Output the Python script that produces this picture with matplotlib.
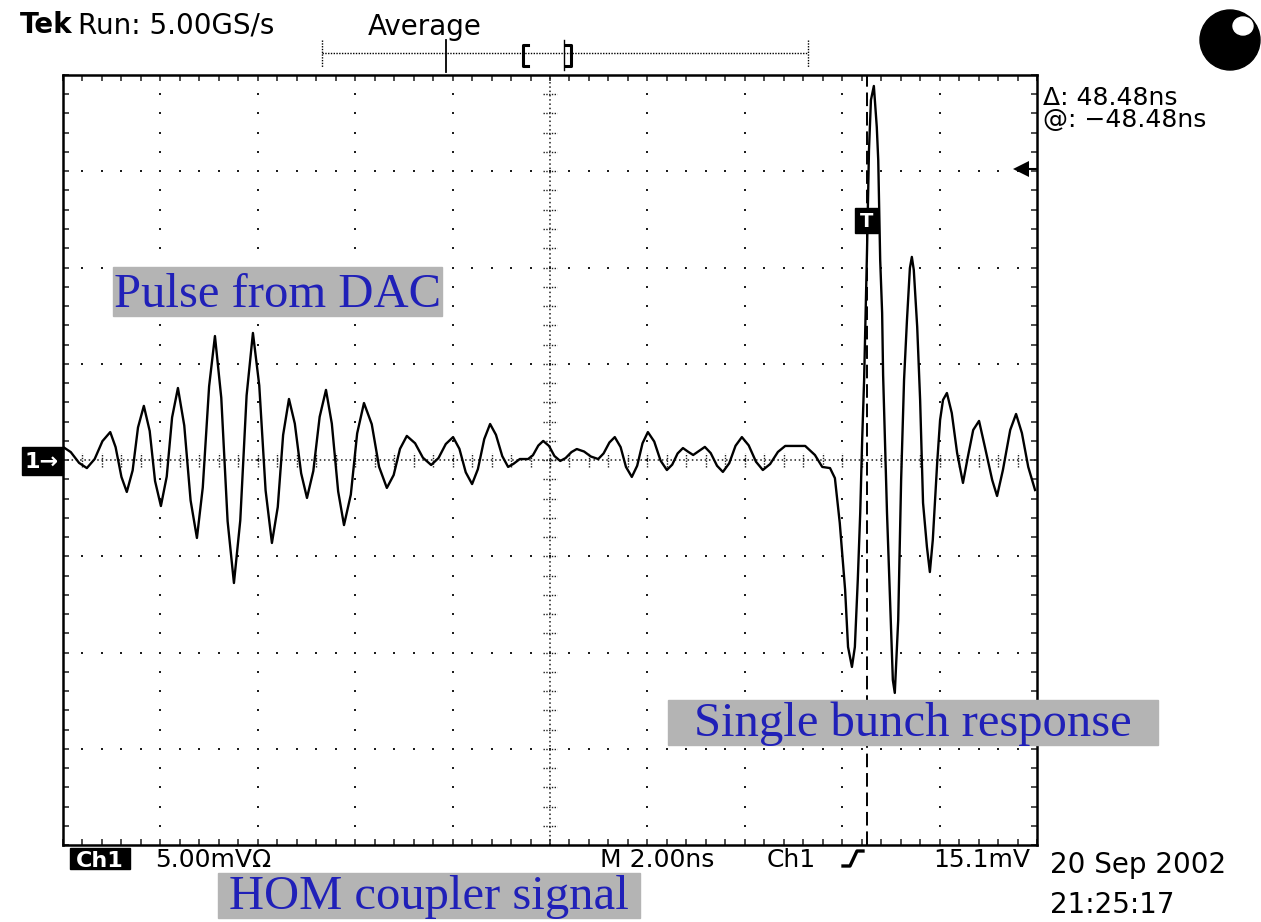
import numpy as np
import matplotlib.pyplot as plt
from matplotlib.patches import Rectangle, Circle, Ellipse

# Ch1 record (HOM coupler), 20 ns window
time_ns = [
    0.00, 0.16, 0.33, 0.49, 0.65, 0.81, 0.97, 1.08, 1.20, 1.31,
    1.43, 1.54, 1.66, 1.78, 1.89, 2.01, 2.13, 2.24, 2.36, 2.49,
    2.62, 2.75, 2.87, 3.00, 3.12, 3.25, 3.38, 3.51, 3.64, 3.77,
    3.90, 4.03, 4.16, 4.29, 4.41, 4.52, 4.64, 4.76, 4.89, 5.01,
    5.14, 5.27, 5.40, 5.52, 5.65, 5.77, 5.91, 6.04, 6.18, 6.34,
    6.49, 6.65, 6.79, 6.92, 7.06, 7.23, 7.39, 7.56, 7.71, 7.86,
    8.01, 8.14, 8.27, 8.40, 8.52, 8.65, 8.77, 8.89, 9.02, 9.14,
    9.25, 9.38, 9.55, 9.65, 9.76, 9.86, 9.98, 10.09, 10.21, 10.32,
    10.44, 10.55, 10.70, 10.84, 10.99, 11.10, 11.22, 11.33, 11.45, 11.56,
    11.68, 11.79, 11.90, 12.01, 12.14, 12.27, 12.40, 12.51, 12.62, 12.73,
    12.83, 12.94, 13.06, 13.18, 13.30, 13.43, 13.55, 13.68, 13.81, 13.94,
    14.08, 14.23, 14.37, 14.52, 14.68, 14.83, 15.24, 15.44, 15.59, 15.75,
    15.85, 15.95, 16.06, 16.12, 16.20, 16.26, 16.32, 16.37, 16.41, 16.45,
    16.51, 16.55, 16.59, 16.65, 16.71, 16.74, 16.78, 16.82, 16.84, 16.92,
    16.98, 17.04, 17.08, 17.15, 17.21, 17.27, 17.33, 17.39, 17.43, 17.47,
    17.54, 17.60, 17.66, 17.74, 17.80, 17.86, 17.95, 18.01, 18.07, 18.15,
    18.25, 18.36, 18.48, 18.58, 18.69, 18.81, 18.93, 19.08, 19.18, 19.30,
    19.45, 19.57, 19.69, 19.82, 19.96,
]
volt_mv = [
    0.68, 0.41, -0.15, -0.42, 0.05, 0.98, 1.45, 0.67, -0.88, -1.66,
    -0.54, 1.69, 2.81, 1.51, -1.09, -2.39, -0.86, 2.21, 3.74, 1.79,
    -2.10, -4.05, -1.43, 3.82, 6.44, 3.23, -3.18, -6.39, -3.14, 3.35,
    6.60, 3.87, -1.58, -4.31, -2.44, 1.30, 3.17, 1.89, -0.69, -1.97,
    -0.57, 2.24, 3.64, 1.89, -1.63, -3.38, -1.80, 1.38, 2.96, 1.86,
    -0.35, -1.45, -0.78, 0.58, 1.25, 0.87, 0.12, -0.26, 0.10, 0.83,
    1.19, 0.58, -0.64, -1.25, -0.47, 1.09, 1.87, 1.31, 0.20, -0.36,
    -0.20, 0.05, 0.05, 0.25, 0.75, 0.99, 0.73, 0.21, -0.05, 0.10,
    0.41, 0.57, 0.44, 0.18, 0.05, 0.34, 0.91, 1.19, 0.67, -0.36,
    -0.88, -0.30, 0.87, 1.45, 0.96, -0.03, -0.52, -0.24, 0.34, 0.62,
    0.44, 0.26, 0.47, 0.68, 0.36, -0.30, -0.62, -0.17, 0.74, 1.19,
    0.76, -0.09, -0.52, -0.21, 0.42, 0.73, 0.73, 0.26, -0.36, -0.42,
    -0.94, -3.27, -6.75, -9.71, -10.75, -9.71, -6.23, -2.75, 1.04, 4.16,
    10.91, 16.10, 18.70, 19.43, 17.30, 15.58, 10.39, 7.64, 4.42, -2.75,
    -7.12, -11.43, -12.10, -8.31, -1.04, 4.16, 7.27, 9.97, 10.55, 9.87,
    6.91, 3.12, -2.23, -4.52, -5.82, -4.16, -0.16, 2.08, 3.12, 3.48,
    2.44, 0.36, -1.19, 0.16, 1.56, 2.03, 0.68, -1.04, -1.87, -0.52,
    1.56, 2.39, 1.40, -0.36, -1.56,
]

ns_per_div = 2.0
mv_per_div = 5.0
trig_level_mv = 15.1
cursor_ns = 16.5

W, H = 1261, 922
fig = plt.figure(figsize=(W / 100, H / 100), dpi=100)
fig.patch.set_facecolor("white")


def px_rect(x0, y0, x1, y1):
    # pixel box (from top-left) -> figure fraction
    return [x0 / W, 1 - y1 / H, (x1 - x0) / W, (y1 - y0) / H]


# graticule
ax = fig.add_axes(px_rect(63, 75, 1037, 845))
ax.set_xlim(0, 10 * ns_per_div)
ax.set_ylim(-4 * mv_per_div, 4 * mv_per_div)
ink = "#1e1e1e"

minor_t = np.arange(1, 50) * ns_per_div / 5
minor_v = np.arange(-19, 20) * mv_per_div / 5
for k in range(1, 10):
    if k == 5:
        continue
    ax.plot(np.full(len(minor_v), k * ns_per_div), minor_v, ls="none",
            marker="s", ms=1.7, mew=0, color=ink)
for k in (-3, -2, -1, 1, 2, 3):
    ax.plot(minor_t, np.full(len(minor_t), k * mv_per_div), ls="none",
            marker="s", ms=1.7, mew=0, color=ink)

# center cross with tick marks
ax.axhline(0, color=ink, lw=1.1, ls=(0, (1, 1.8)))
ax.axvline(5 * ns_per_div, color=ink, lw=1.1, ls=(0, (1, 1.8)))
ax.vlines(minor_t, -0.36, 0.36, color=ink, lw=1.0, ls=(0, (1, 1)))
ax.hlines(minor_v, 5 * ns_per_div - 0.15, 5 * ns_per_div + 0.15,
          color=ink, lw=1.0, ls=(0, (1, 1)))

ax.set_xticks(np.arange(0, 20.01, ns_per_div / 5))
ax.set_yticks(np.arange(-20, 20.01, mv_per_div / 5))
ax.tick_params(direction="in", length=4, width=1.1, color=ink,
               top=True, right=True, labelbottom=False, labelleft=False)
for sp in ax.spines.values():
    sp.set_linewidth(1.8)

# waveform
ax.plot(time_ns, volt_mv, color="k", lw=1.7, zorder=5)

# cursor and trigger level
ax.axvline(cursor_ns, color="k", lw=1.4, ls=(0, (7, 3)), zorder=4)
ax.plot([19.7, 20], [trig_level_mv, trig_level_mv], color="k", lw=1.5)
ax.plot([19.68], [trig_level_mv], marker="<", ms=11, mew=0, color="k")

# overlay in pixel coordinates for readouts and labels
ov = fig.add_axes([0, 0, 1, 1])
ov.set_xlim(0, W)
ov.set_ylim(H, 0)
ov.axis("off")

big = 20
small = 18
ov.text(20, 33, "Tek", fontsize=big, fontweight="bold", va="baseline")
ov.text(78, 33, "Run: 5.00GS/s", fontsize=big, va="baseline")
ov.text(368, 35, "Average", fontsize=big, va="baseline")

# record bar
ov.plot([322, 808], [53, 53], color="k", lw=1, ls=(0, (1, 1)))
ov.plot([322, 322], [40, 67], color="k", lw=1, ls=(0, (1, 1)))
ov.plot([808, 808], [40, 67], color="k", lw=1, ls=(0, (1, 1)))
ov.plot([446, 446], [40, 72], color="k", lw=1.3)
ov.plot([528, 523, 523, 528], [45, 45, 66, 66], color="k", lw=2.2)
ov.plot([566, 571, 571, 566], [45, 45, 66, 66], color="k", lw=2.2)
ov.plot([564, 564], [40, 70], color="k", lw=1)

# status ball
ov.add_patch(Circle((1230, 40), 30, color="k"))
ov.add_patch(Ellipse((1243, 26), 20, 18, color="w"))

ov.text(1043, 105, "Δ: 48.48ns", fontsize=small, va="baseline")
ov.text(1043, 127, "@: \u221248.48ns", fontsize=small, va="baseline")

# channel ground marker and trigger position marker
ov.add_patch(Rectangle((22, 447), 41, 28, color="k"))
ov.text(42, 462, "1\u2192", color="w", fontsize=16, fontweight="bold",
        ha="center", va="center")
ov.add_patch(Rectangle((855, 208), 23, 25, color="k", zorder=6))
ov.text(866.5, 221, "T", color="w", fontsize=14, fontweight="bold",
        ha="center", va="center", zorder=7)

# bottom readouts
ov.add_patch(Rectangle((70, 848), 60, 21, color="k"))
ov.text(100, 867, "Ch1", color="w", fontsize=16, fontweight="bold",
        ha="center", va="baseline")
ov.text(155, 867, "5.00mV\u03a9", fontsize=small, va="baseline")
ov.text(600, 867, "M 2.00ns", fontsize=small, va="baseline")
ov.text(767, 867, "Ch1", fontsize=small, va="baseline")
ov.plot([843, 850, 857, 863], [866, 866, 851, 851], color="k", lw=2.4)
ov.text(1030, 867, "15.1mV", fontsize=small, va="baseline", ha="right")
ov.text(1050, 873, "20 Sep 2002", fontsize=big, va="baseline")
ov.text(1050, 913, "21:25:17", fontsize=big, va="baseline")

# annotations
label_blue = "#2020b8"
label_gray = "#b4b4b4"


def tag(x0, y0, x1, y1, s):
    ov.add_patch(Rectangle((x0, y0), x1 - x0, y1 - y0, color=label_gray, zorder=8))
    ov.text((x0 + x1) / 2, y1 - 9, s, color=label_blue, fontsize=35,
            family="Liberation Serif", ha="center", va="baseline", zorder=9)


tag(113, 267, 442, 316, "Pulse from DAC")
tag(668, 700, 1158, 745, "Single bunch response")
tag(218, 873, 640, 918, "HOM coupler signal")

fig.savefig("out.png", dpi=100)
